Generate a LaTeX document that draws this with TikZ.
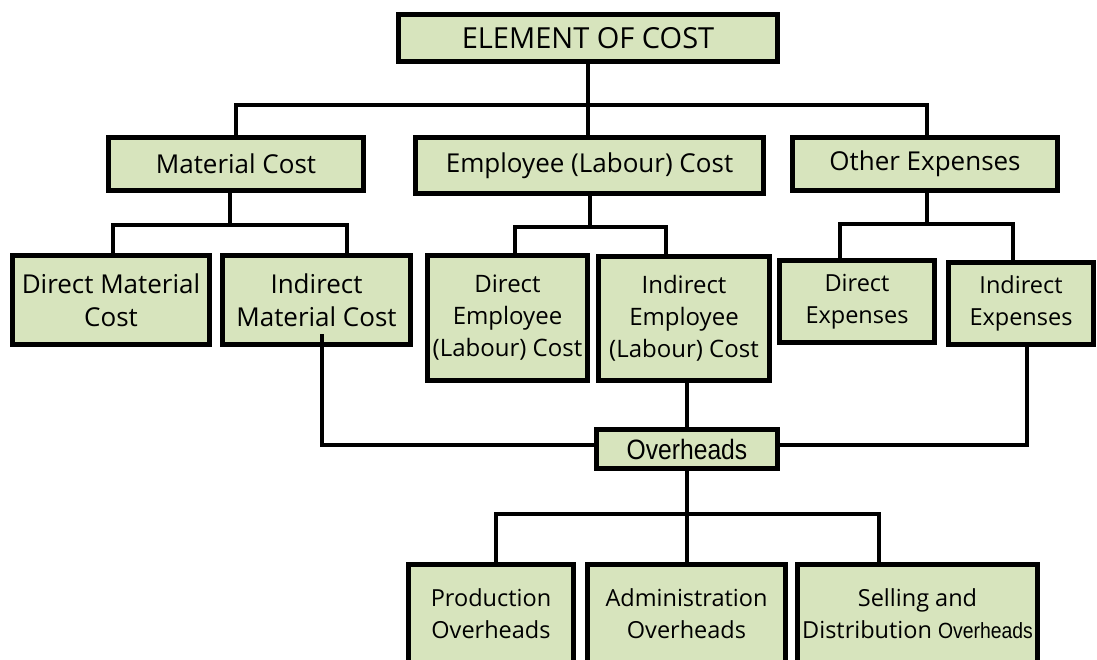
\documentclass[tikz,border=0pt]{standalone}
\usepackage{fontspec}
\setmainfont{Open Sans}
\newfontfamily\narrowfont[FakeStretch=0.88]{Liberation Sans}
\usepackage{tikz}
\usetikzlibrary{positioning,calc}
\definecolor{boxgreen}{RGB}{215,228,189}

\begin{document}
\begin{tikzpicture}[x=1pt, y=-1pt,
    costbox/.style={draw=black, fill=boxgreen, line width=5.5pt, inner sep=0pt,
      align=center, font=\fontsize{24}{32}\selectfont},
    link/.style={draw=black, line width=4.5pt}]
    \useasboundingbox (0,0) rectangle (1097,659);
    \clip (0,0) rectangle (1097,659);
    % Top box
    \node[costbox, minimum width=379pt, minimum height=47pt,
          font=\fontsize{29}{32}\selectfont] (elem) at (588,38) {ELEMENT OF COST};
    % First level
    \node[costbox, minimum width=255pt, minimum height=53pt,
          font=\fontsize{26}{32}\selectfont] (mat) at (236,164) {Material Cost};
    \node[costbox, minimum width=348pt, minimum height=56pt,
          font=\fontsize{26}{32}\selectfont] (emp) at (589.5,165.5) {Employee (Labour) Cost};
    \node[costbox, minimum width=265pt, minimum height=53pt,
          font=\fontsize{26}{32}\selectfont] (oth) at (925,164) {Other Expenses};
    % Second level
    \node[costbox, minimum width=197pt, minimum height=89pt,
          font=\fontsize{26}{33}\selectfont] (dmat) at (111,300) {Direct Material\\Cost};
    \node[costbox, minimum width=188pt, minimum height=89pt,
          font=\fontsize{26}{33}\selectfont] (imat) at (316.5,300) {Indirect\\Material Cost};
    \node[costbox, minimum width=160pt, minimum height=125pt] (demp) at (507.5,318)
         {Direct\\Employee\\(Labour) Cost};
    \node[costbox, minimum width=171pt, minimum height=124pt] (iemp) at (684,318.5)
         {Indirect\\Employee\\(Labour) Cost};
    \node[costbox, minimum width=155pt, minimum height=82pt,
          font=\fontsize{23.5}{32}\selectfont] (dexp) at (857,301.5) {Direct\\Expenses};
    \node[costbox, minimum width=145pt, minimum height=82pt,
          font=\fontsize{23.5}{32}\selectfont] (iexp) at (1021,303.5) {Indirect\\Expenses};
    % Overheads
    \node[costbox, minimum width=181pt, minimum height=39pt,
          font=\narrowfont\fontsize{28}{32}\selectfont] (ovh) at (687,449) {Overheads};
    % Bottom level
    \node[costbox, minimum width=165pt, minimum height=99pt,
          font=\fontsize{23.5}{32}\selectfont] (prod) at (491,614) {Production\\Overheads};
    \node[costbox, minimum width=198pt, minimum height=99pt,
          font=\fontsize{23.5}{32}\selectfont] (admin) at (686.5,614) {Administration\\Overheads};
    \node[costbox, minimum width=240pt, minimum height=99pt,
          font=\fontsize{23.5}{32}\selectfont] (sell) at (917.5,614)
         {Selling and\\Distribution {\narrowfont\fontsize{22}{32}\selectfont Overheads}};

    % Connectors from the top
    \coordinate (costbus) at (588,105);
    \draw[link] (elem.south) -- (costbus);
    \draw[link] (mat.north) |- (costbus) -| ([xshift=2pt]oth.north);
    \draw[link] (costbus) -- (costbus |- emp.north);
    % Material branch
    \coordinate (matbus) at (230,225);
    \draw[link] (mat.south -| matbus) -- (matbus);
    \draw[link] ([xshift=2pt]dmat.north) |- (matbus) -| ([xshift=30.5pt]imat.north);
    % Employee branch
    \coordinate (empbus) at (590,227);
    \draw[link] (emp.south -| empbus) -- (empbus);
    \draw[link] ([xshift=7.5pt]demp.north) |- (empbus) -| ([xshift=-18pt]iemp.north);
    % Expenses branch
    \coordinate (othbus) at (927,224);
    \draw[link] (oth.south -| othbus) -- (othbus);
    \draw[link] ([xshift=-17pt]dexp.north) |- (othbus) -| ([xshift=-8pt]iexp.north);
    % Into overheads
    \coordinate (imatdrop) at (322,334);
    \draw[link] (imatdrop) |- ([yshift=4pt]ovh.west);
    \draw[link] (ovh.north |- iemp.south) -- (ovh.north);
    \draw[link] ([xshift=6pt]iexp.south) |- ([yshift=4pt]ovh.east);
    % Overheads branch
    \coordinate (ovhbus) at (687,514);
    \draw[link] (ovh.south) -- (ovhbus);
    \draw[link] ([xshift=5pt]prod.north) |- (ovhbus) -| ([xshift=-38.5pt]sell.north);
    \draw[link] (ovhbus) -- (ovhbus |- admin.north);
\end{tikzpicture}
\end{document}
